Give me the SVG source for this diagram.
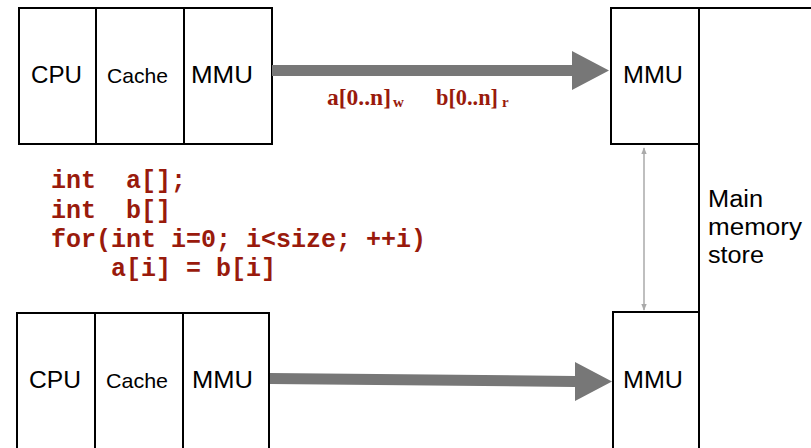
<svg xmlns="http://www.w3.org/2000/svg" width="811" height="448" viewBox="0 0 811 448">
<defs>
<style>
.box{fill:#fff;stroke:#000;stroke-width:2}
.ln{stroke:#000;stroke-width:2;fill:none}
.lbl{font-family:"Liberation Sans",Arial,sans-serif;font-size:23px;fill:#000}
.sm{font-size:21px}
.code{font-family:"Liberation Mono","Courier New",monospace;font-weight:bold;font-size:25px;fill:#991a0c;white-space:pre}
.red{font-family:"Liberation Serif","Times New Roman",serif;font-weight:bold;font-size:24px;fill:#991a0c}
.sub{font-size:15px}
.arr{fill:#777}
</style>
<marker id="ah" viewBox="0 0 10 10" refX="9" refY="5" markerWidth="7" markerHeight="7" orient="auto-start-reverse" markerUnits="userSpaceOnUse">
<path d="M0,1 L10,5 L0,9 Z" fill="#aaa"/>
</marker>
</defs>
<rect width="811" height="448" fill="#fff"/>

<g id="top-cpu">
<rect class="box" x="19" y="8" width="253" height="136"/>
<line class="ln" x1="96" y1="8" x2="96" y2="144"/>
<line class="ln" x1="184" y1="8" x2="184" y2="144"/>
<text class="lbl" x="31" y="83" textLength="51" lengthAdjust="spacingAndGlyphs">CPU</text>
<text class="lbl sm" x="107" y="83" textLength="61" lengthAdjust="spacingAndGlyphs">Cache</text>
<text class="lbl" x="191" y="83" textLength="62" lengthAdjust="spacingAndGlyphs">MMU</text>
</g>

<g id="bottom-cpu">
<rect class="box" x="17" y="313" width="252" height="145"/>
<line class="ln" x1="95" y1="313" x2="95" y2="458"/>
<line class="ln" x1="183" y1="313" x2="183" y2="458"/>
<text class="lbl" x="29" y="388" textLength="52" lengthAdjust="spacingAndGlyphs">CPU</text>
<text class="lbl sm" x="106" y="388" textLength="62" lengthAdjust="spacingAndGlyphs">Cache</text>
<text class="lbl" x="192" y="388" textLength="61" lengthAdjust="spacingAndGlyphs">MMU</text>
</g>

<g id="main-memory">
<rect class="box" x="699" y="8" width="130" height="460"/>
<text class="lbl" x="708" y="207" textLength="55" lengthAdjust="spacingAndGlyphs">Main</text>
<text class="lbl" x="708" y="235" textLength="94" lengthAdjust="spacingAndGlyphs">memory</text>
<text class="lbl" x="708" y="263" textLength="56" lengthAdjust="spacingAndGlyphs">store</text>
</g>

<g id="top-mmu">
<rect class="box" x="611" y="8" width="88" height="136"/>
<text class="lbl" x="623" y="83" textLength="60" lengthAdjust="spacingAndGlyphs">MMU</text>
</g>

<g id="bottom-mmu">
<rect class="box" x="613" y="312" width="86" height="150"/>
<text class="lbl" x="623" y="388" textLength="60" lengthAdjust="spacingAndGlyphs">MMU</text>
</g>

<g id="code">
<text class="code" x="51" y="188">int  a[];</text>
<text class="code" x="51" y="218">int  b[]</text>
<text class="code" x="51" y="247">for(int i=0; i&lt;size; ++i)</text>
<text class="code" x="51" y="276">    a[i] = b[i]</text>
</g>

<g id="connectors">
<path class="arr" d="M272,65 L572,65 L572,51 L609,70.5 L572,90 L572,76 L272,76 Z"/>
<path class="arr" d="M270,373 L575,376 L575,362 L612,381.5 L575,401 L575,387 L270,384 Z"/>
<line x1="644" y1="148" x2="644" y2="310" stroke="#aaa" stroke-width="1.5" marker-start="url(#ah)" marker-end="url(#ah)"/>
</g>

<g id="labels">
<text class="red" x="327" y="105" textLength="64" lengthAdjust="spacingAndGlyphs">a[0..n]</text>
<text class="red sub" x="393" y="107">w</text>
<text class="red" x="436" y="105" textLength="62" lengthAdjust="spacingAndGlyphs">b[0..n]</text>
<text class="red sub" x="502" y="107">r</text>
</g>
</svg>
